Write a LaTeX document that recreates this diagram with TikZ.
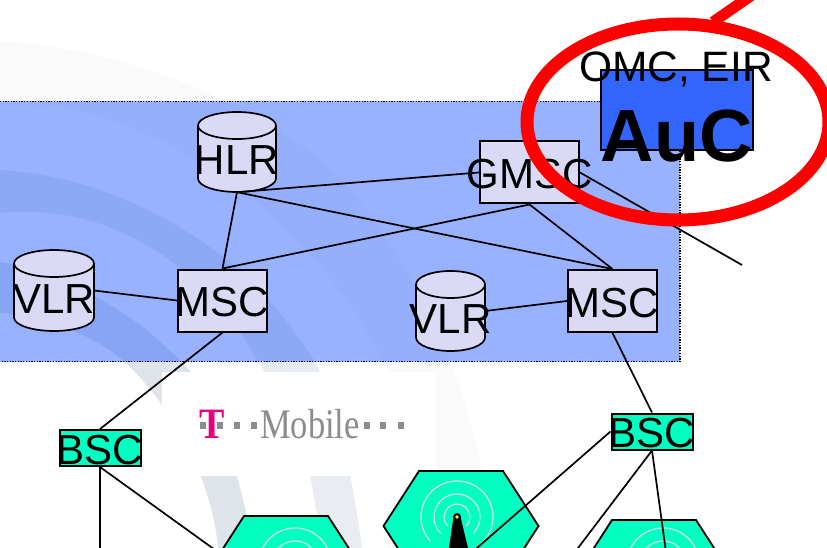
\documentclass[tikz,border=0pt]{standalone}
\usepackage{fontspec}
\setmainfont{Liberation Sans}
\newfontfamily\logofont{Liberation Serif}
\usetikzlibrary{shapes.geometric}
\definecolor{lav}{HTML}{DADAF6}
\definecolor{aucblue}{HTML}{3366FF}
\definecolor{sea}{HTML}{00FFC0}
\definecolor{wavec}{HTML}{C8E2E2}
\definecolor{redc}{HTML}{FF0000}
\definecolor{tmag}{HTML}{E6007E}
\definecolor{tgray}{HTML}{8C8C8C}
\definecolor{swa}{HTML}{E9ECF0}
\definecolor{swb}{HTML}{DFE3EA}
\definecolor{swc}{HTML}{FAFAFB}
\newcommand\ctxt[2][-16pt]{\makebox[0pt]{\smash{\raisebox{#1}{#2}}}}
% cell: centre x, centre y, beacon x, beacon y
\newcommand\hexcell[4]{%
  \draw[hexs] (#1-77.5,#2) -- (#1-42,#2-55) -- (#1+42,#2-55) -- (#1+77.5,#2) -- (#1+42,#2+55) -- (#1-42,#2+55) -- cycle;
  \begin{scope}[shift={(#3,#4)},y=1pt]
    \draw[waves] (222:36) arc[start angle=222,end angle=-60,radius=36];
    \draw[waves] (225:23) arc[start angle=225,end angle=-45,radius=23];
    \draw[waves] (225:13) arc[start angle=225,end angle=-45,radius=13];
    \fill[black] (-3.5,0) -- (3.5,0) -- (11,-31) -- (-8,-31) -- cycle;
    \fill[black] (0,0) circle[radius=4];
    \fill[yellow] (0,0) circle[radius=1.8];
  \end{scope}}
% drum: centre x, centre y, half width, half height
\newcommand\drum[4]{%
  \begin{scope}[shift={(#1,#2)},y=1pt]
    \filldraw[dbs] (-#3,#4-13.5) arc[start angle=180,end angle=0,x radius=#3,y radius=13.5]
      -- (#3,-#4+13.5) arc[start angle=0,end angle=-180,x radius=#3,y radius=13.5] -- cycle;
    \draw[dbs,fill=none] (-#3,#4-13.5) arc[start angle=180,end angle=360,x radius=#3,y radius=13.5];
  \end{scope}}
\tikzset{
  x=1pt,y=-1pt,
  txt/.style={font=\fontsize{42}{42}\selectfont,inner sep=0pt,text=black},
  box/.style={draw=black,line width=2pt,fill=lav,minimum width=#1,minimum height=62pt,txt},
  bsc/.style={draw=black,line width=2pt,fill=sea,minimum width=81pt,minimum height=36pt,txt},
  db/.style={minimum width=#1,minimum height=80pt,txt},
  dbs/.style={draw=black,line width=1.7pt,fill=lav},
  link/.style={draw=black,line width=1.7pt},
  hexs/.style={draw=black,line width=1.8pt,fill=sea},
  waves/.style={draw=wavec,line width=1.3pt},
  panel/.style={fill=aucblue,fill opacity=.5},
  rim/.style={draw=black,line width=1.2pt,dash pattern=on 1.3pt off 1.4pt},
  ring/.style={draw=redc,line width=13pt},
  logodot/.style={fill=tgray}
}
\begin{document}
\begin{tikzpicture}
\useasboundingbox (0,0) rectangle (827,548);
\clip (0,0) rectangle (827,548);
\fill[white] (0,0) rectangle (827,548);
% watermark swooshes
\fill[swc] (0,41) .. controls (110,48) and (230,90) .. (317,157) .. controls (385,215) and (455,340) .. (482,470) -- (500,548) -- (425,548) .. controls (418,470) and (405,410) .. (383,362) .. controls (320,230) and (170,105) .. (0,100) -- cycle;
\fill[swa] (0,170) .. controls (90,175) and (170,215) .. (223,257) .. controls (265,290) and (295,330) .. (315,362) .. controls (335,400) and (350,460) .. (362,548) -- (320,548) .. controls (315,470) and (295,410) .. (258,362) .. controls (220,290) and (130,200) .. (0,213) -- cycle;
\fill[swb] (0,262) .. controls (50,270) and (100,295) .. (147,330) -- (182,362) .. controls (210,390) and (238,460) .. (253,548) -- (218,548) .. controls (212,480) and (175,410) .. (125,362) .. controls (100,340) and (50,315) .. (0,313) -- cycle;
% logo
\fill[white] (162,372) rectangle (436,476);
\foreach \px in {203,220,237,254,367,383,401}
  \fill[logodot] (\px-3,422) rectangle (\px+3,429);
\node[anchor=base west,inner sep=0pt,text=tgray,font=\logofont\fontsize{34.5}{34.5}\selectfont] (mobile) at (260,438) {\scalebox{1}[1.22]{Mobile}};
\node[anchor=base,inner sep=0pt,text=tmag,font=\logofont\bfseries\fontsize{38}{38}\selectfont] (tee) at (212,438) {\scalebox{1}[1.14]{T}};
% core network panel
\path[panel] (-3,101.5) rectangle (680,361.5);
\draw[rim] (-3,101.5) rectangle (680,361.5);
% cells
\hexcell{286}{571}{295}{564}
\hexcell{461}{526}{457}{517}
\hexcell{654}{575}{663}{564}
% nodes
\drum{237}{152}{39}{40}
\drum{54}{290.5}{40}{40.5}
\drum{450.5}{311}{34.5}{40}
\node[db=78pt] (hlr) at (237,152) {\ctxt[-23pt]{HLR}};
\node[db=80pt,minimum height=81pt] (vlra) at (54,290.5) {\ctxt[-22.5pt]{VLR}};
\node[db=69pt] (vlrb) at (450.5,311) {\ctxt[-22pt]{VLR}};
\node[box=99pt] (gmsc) at (529.5,172.5) {\ctxt{GMSC}};
\node[box=89pt] (msca) at (222.5,300.5) {\ctxt{MSC}};
\node[box=89pt] (mscb) at (612.5,301) {\ctxt{MSC}};
\node[bsc] (bsca) at (100,448) {\ctxt{BSC}};
\node[bsc] (bscb) at (652,431.5) {\ctxt{BSC}};
\node[draw=black,line width=1.8pt,fill=aucblue,minimum width=152pt,minimum height=80pt,inner sep=0pt,font=\bfseries\fontsize{74}{74}\selectfont] (auc) at (677,110) {\ctxt[-52pt]{AuC}};
\node[txt,anchor=base,font=\fontsize{42.5}{42.5}\selectfont] (omc) at (676,82) {OMC, EIR};
% free ends
\coordinate (gout) at (742,265);
\coordinate (ba1) at (100,552);
\coordinate (ba2) at (218,552);
\coordinate (bb1) at (470,554);
\coordinate (bb2) at (575,552);
\coordinate (bb3) at (666,552);
% connectors
\draw[link] (hlr.south) -- (gmsc.west);
\draw[link] (hlr.south) -- (msca.north);
\draw[link] (hlr.south) -- (mscb.north);
\draw[link] (msca.north) -- (gmsc.south);
\draw[link] (gmsc.south) -- (mscb.north);
\draw[link] (gmsc.east) -- (gout);
\draw[link] (vlra.east) -- (msca.west);
\draw[link] (vlrb.east) -- (mscb.west);
\draw[link] (msca.south) -- (bsca.north);
\draw[link] (mscb.south) -- (bscb.north);
\draw[link] (bsca.south) -- (ba1);
\draw[link] (bsca.south) -- (ba2);
\draw[link] (bscb.west) -- (bb1);
\draw[link] (bscb.south) -- (bb2);
\draw[link] (bscb.south) -- (bb3);
% red callout
\draw[ring] (678,122) ellipse[x radius=151,y radius=98];
\draw[redc,line width=11pt] (713,22) -- (765,-14);
\end{tikzpicture}
\end{document}
